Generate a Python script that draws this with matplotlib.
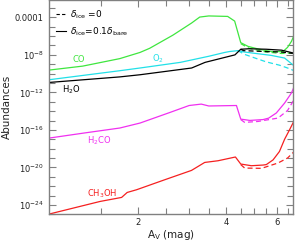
import numpy as np
import matplotlib
matplotlib.use("Agg")
import matplotlib.pyplot as plt
from matplotlib.lines import Line2D
from matplotlib.ticker import FixedLocator, FixedFormatter, NullFormatter

# ---------------- data (Av in mag, log10 abundance) ----------------
co_av  = [1.0, 1.3, 1.74, 2.04, 2.2, 2.64, 3.06, 3.26, 3.5, 4.06, 4.29, 4.50, 4.77, 5.2, 5.72, 6.27, 6.5, 6.70, 6.8]
co_log = [-9.62, -9.2, -8.4, -7.74, -7.3, -5.9, -4.6, -3.97, -3.85, -3.9, -4.4, -6.7, -7.1, -7.4, -7.64, -7.65, -7.2, -6.57, -6.1]
co_d_av  = [4.50, 4.8, 5.5, 6.2, 6.8]
co_d_log = [-6.8, -7.3, -7.7, -7.85, -7.8]

o2_av  = [1.0, 1.74, 2.04, 2.8, 3.5, 3.97, 4.13, 4.40, 4.64, 5.15, 5.7, 6.35, 6.8]
o2_log = [-10.65, -9.69, -9.4, -8.8, -8.15, -7.74, -7.64, -7.55, -7.7, -7.88, -8.05, -8.34, -9.1]
o2_d_av  = [4.40, 4.64, 5.1, 5.5, 6.1, 6.5, 6.8]
o2_d_log = [-7.55, -7.95, -8.4, -8.75, -9.1, -9.4, -9.65]

h2o_av  = [1.0, 1.74, 2.04, 3.06, 3.4, 4.3, 4.5, 4.8, 5.5, 6.2, 6.8]
h2o_log = [-10.94, -10.35, -10.12, -9.4, -8.8, -8.0, -7.4, -7.35, -7.4, -7.5, -7.8]
h2o_d_av  = [4.5, 4.6, 5.5, 6.2, 6.8]
h2o_d_log = [-7.4, -7.55, -7.65, -7.7, -7.85]

h2co_av  = [1.0, 1.31, 1.74, 2.04, 2.58, 3.0, 3.3, 3.5, 4.35, 4.50, 4.83, 5.36, 5.6, 5.95, 6.35, 6.7, 6.8]
h2co_log = [-16.87, -16.34, -15.80, -15.27, -14.14, -13.4, -13.25, -13.45, -13.4, -14.85, -14.99, -14.9, -14.75, -14.2, -13.14, -12.07, -11.6]
h2co_d_av  = [4.50, 4.64, 5.15, 6.03, 6.5, 6.8]
h2co_d_log = [-14.9, -15.2, -15.1, -14.74, -13.93, -12.9]

ch3oh_av  = [1.0, 1.49, 1.765, 1.844, 1.986, 2.48, 3.056, 3.39, 3.765, 4.316, 4.50, 4.89, 5.36, 5.5, 5.8, 6.1, 6.35, 6.55, 6.8]
ch3oh_log = [-24.97, -23.63, -23.2, -22.67, -22.38, -21.31, -20.32, -19.47, -19.29, -18.89, -19.64, -19.82, -19.75, -19.7, -19.2, -18.3, -17.0, -16.2, -15.2]
ch3oh_d_av  = [4.50, 4.64, 5.3, 6.03, 6.5, 6.8]
ch3oh_d_log = [-19.7, -20.07, -20.1, -19.53, -19.0, -18.4]

xmajor = [2, 4, 6]
xmajor_labels = ["2", "4", "6"]
xminor = [1.5, 2.5, 3, 3.5, 4.5, 5, 5.5, 6.5]
ymajor = [1e-4, 1e-8, 1e-12, 1e-16, 1e-20, 1e-24]
ymajor_labels = ["0.0001", r"$10^{-8}$", r"$10^{-12}$", r"$10^{-16}$", r"$10^{-20}$", r"$10^{-24}$"]
yminor = [10.0 ** e for e in range(-25, -1)]

series = [
    ("CO", co_av, co_log, co_d_av, co_d_log, "#3fe63f"),
    ("O2", o2_av, o2_log, o2_d_av, o2_d_log, "#22e0e8"),
    ("H2O", h2o_av, h2o_log, h2o_d_av, h2o_d_log, "#000000"),
    ("H2CO", h2co_av, h2co_log, h2co_d_av, h2co_d_log, "#f030f0"),
    ("CH3OH", ch3oh_av, ch3oh_log, ch3oh_d_av, ch3oh_d_log, "#f52020"),
]

labels = {
    "CO": ("CO", 1.262, -8.45),
    "O2": (r"O$_2$", 2.345, -8.45),
    "H2O": (r"H$_2$O", 1.186, -11.72),
    "H2CO": (r"H$_2$CO", 1.477, -17.12),
    "CH3OH": (r"CH$_3$OH", 1.518, -22.8),
}

# ---------------- figure ----------------
fig = plt.figure(figsize=(2.95, 2.43), dpi=100)
ax = fig.add_axes([49.3 / 295, 1 - 214.3 / 243, (293.3 - 49.3) / 295, 214.3 / 243])

for key, av, lg, dav, dlg, col in series:
    ax.plot(av, 10.0 ** np.array(lg), color=col, lw=0.9, solid_joinstyle="round")
    ax.plot(dav, 10.0 ** np.array(dlg), color=col, lw=0.9, ls=(0, (4, 2.5)))
    txt, lx, ly = labels[key]
    ax.text(lx, 10.0 ** ly, txt, color=col, fontsize=6, ha="center", va="center")

ax.set_xscale("log")
ax.set_yscale("log")
ax.set_xlim(1.0, 6.8)
ax.set_ylim(1e-25, 10 ** -2.15)

ax.xaxis.set_major_locator(FixedLocator(xmajor))
ax.xaxis.set_major_formatter(FixedFormatter(xmajor_labels))
ax.xaxis.set_minor_locator(FixedLocator(xminor))
ax.xaxis.set_minor_formatter(NullFormatter())
ax.yaxis.set_major_locator(FixedLocator(ymajor))
ax.yaxis.set_major_formatter(FixedFormatter(ymajor_labels))
ax.yaxis.set_minor_locator(FixedLocator(yminor))
ax.yaxis.set_minor_formatter(NullFormatter())

gray = "#808080"
for s in ax.spines.values():
    s.set_color(gray)
    s.set_linewidth(1.0)
ax.tick_params(which="both", direction="in", top=True, right=True, colors=gray,
               labelcolor="#222222", labelsize=6, width=0.8)
ax.tick_params(which="major", length=5)
ax.tick_params(which="minor", length=4)
ax.tick_params(axis="x", which="major", pad=3)
ax.tick_params(axis="y", which="major", pad=4)

ax.set_xlabel(r"A$_{\rm V}$ (mag)", fontsize=7.5, labelpad=0.5, color="#222222")
ax.set_ylabel("Abundances", fontsize=7.5, labelpad=2, color="#222222")

handles = [Line2D([], [], color="black", lw=0.8, ls=(0, (3, 2))),
           Line2D([], [], color="black", lw=0.8)]
leg = ax.legend(handles, [r"$\delta_{\rm ice}$ =0", r"$\delta_{\rm ice}$=0.1$\delta_{\rm bare}$"],
                loc="upper left", bbox_to_anchor=(0.0, 0.99), frameon=False, fontsize=6.5,
                handlelength=1.2, handletextpad=0.4, labelspacing=0.45, borderaxespad=0.3)

fig.savefig("out.png", dpi=100)
